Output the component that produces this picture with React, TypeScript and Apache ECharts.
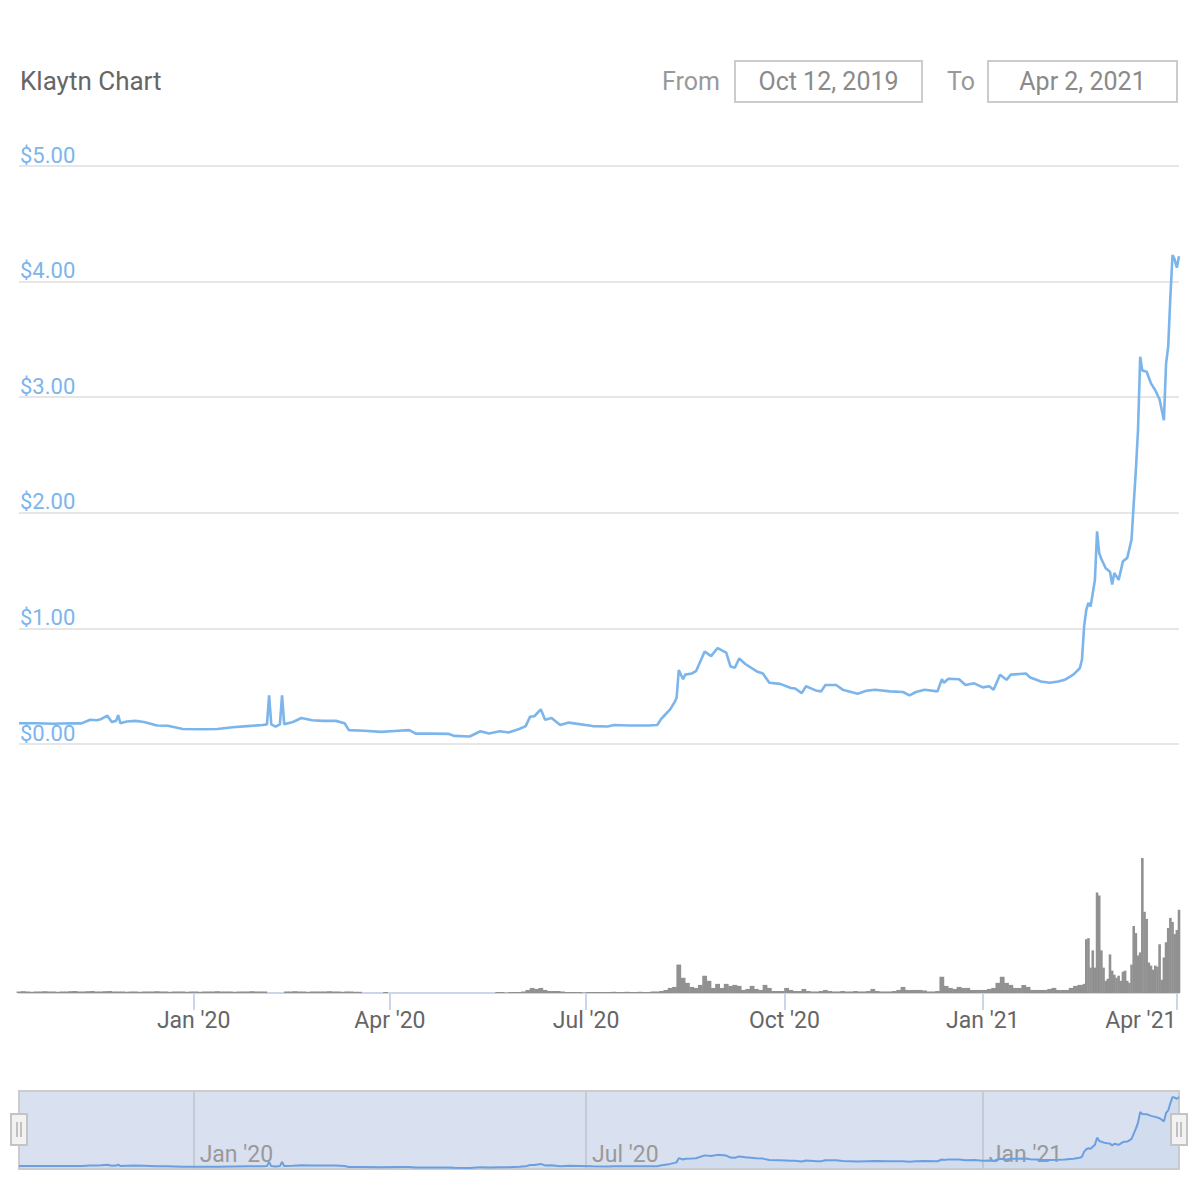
import React, { useEffect, useRef } from "react";
import * as echarts from "echarts";

// ---------- data ----------
const priceDates: string[] = [
  "2019-10-12","2019-10-20","2019-10-28","2019-11-05","2019-11-10","2019-11-14","2019-11-17","2019-11-19","2019-11-22","2019-11-24",
  "2019-11-26","2019-11-27","2019-11-28","2019-12-01","2019-12-05","2019-12-09","2019-12-15","2019-12-20","2019-12-27","2020-01-05",
  "2020-01-12","2020-01-19","2020-01-26","2020-02-02","2020-02-04","2020-02-05","2020-02-06","2020-02-08","2020-02-10","2020-02-11",
  "2020-02-12","2020-02-16","2020-02-20","2020-02-25","2020-03-01","2020-03-07","2020-03-11","2020-03-13","2020-03-20","2020-03-28",
  "2020-04-05","2020-04-10","2020-04-13","2020-04-20","2020-04-28","2020-05-01","2020-05-08","2020-05-13","2020-05-17","2020-05-22",
  "2020-05-26","2020-05-31","2020-06-03","2020-06-05","2020-06-07","2020-06-10","2020-06-12","2020-06-15","2020-06-19","2020-06-23",
  "2020-07-04","2020-07-11","2020-07-14","2020-07-21","2020-07-30","2020-08-03","2020-08-05","2020-08-06","2020-08-09","2020-08-11",
  "2020-08-12","2020-08-13","2020-08-15","2020-08-16","2020-08-19","2020-08-21","2020-08-25","2020-08-28","2020-08-31","2020-09-04",
  "2020-09-06","2020-09-08","2020-09-10","2020-09-13","2020-09-18","2020-09-21","2020-09-24","2020-09-29","2020-10-04","2020-10-06",
  "2020-10-09","2020-10-11","2020-10-16","2020-10-18","2020-10-20","2020-10-25","2020-10-28","2020-11-04","2020-11-08","2020-11-12",
  "2020-11-19","2020-11-25","2020-11-28","2020-12-01","2020-12-05","2020-12-11","2020-12-13","2020-12-14","2020-12-16","2020-12-21",
  "2020-12-24","2020-12-28","2021-01-01","2021-01-04","2021-01-06","2021-01-09","2021-01-12","2021-01-14","2021-01-21","2021-01-23",
  "2021-01-28","2021-02-01","2021-02-05","2021-02-08","2021-02-12","2021-02-15","2021-02-16","2021-02-17","2021-02-18","2021-02-19",
  "2021-02-20","2021-02-22","2021-02-23","2021-02-24","2021-02-25","2021-02-27","2021-03-01","2021-03-02","2021-03-03","2021-03-05",
  "2021-03-07","2021-03-09","2021-03-11","2021-03-12","2021-03-13","2021-03-14","2021-03-15","2021-03-16","2021-03-18","2021-03-20",
  "2021-03-22","2021-03-24","2021-03-25","2021-03-26","2021-03-27","2021-03-28","2021-03-29","2021-03-30","2021-03-31","2021-04-01",
  "2021-04-02",
];
const priceValues: number[] = [
  0.18,0.18,0.175,0.18,0.178,0.21,0.205,0.215,0.245,0.19,
  0.2,0.25,0.18,0.195,0.2,0.19,0.16,0.158,0.13,0.128,
  0.13,0.145,0.155,0.165,0.17,0.42,0.17,0.15,0.17,0.42,
  0.17,0.19,0.225,0.205,0.2,0.2,0.18,0.12,0.115,0.105,
  0.115,0.12,0.09,0.09,0.088,0.07,0.065,0.11,0.09,0.11,
  0.1,0.13,0.155,0.235,0.24,0.3,0.21,0.225,0.165,0.185,
  0.155,0.152,0.165,0.16,0.16,0.165,0.22,0.24,0.3,0.36,
  0.4,0.64,0.56,0.6,0.61,0.63,0.8,0.76,0.83,0.79,
  0.67,0.66,0.74,0.69,0.63,0.61,0.53,0.52,0.485,0.48,
  0.44,0.5,0.46,0.455,0.51,0.51,0.47,0.435,0.46,0.47,
  0.455,0.45,0.42,0.45,0.47,0.455,0.56,0.53,0.565,0.56,
  0.51,0.525,0.49,0.5,0.47,0.6,0.555,0.6,0.61,0.575,
  0.54,0.53,0.54,0.555,0.6,0.655,0.73,1.02,1.16,1.22,
  1.19,1.42,1.84,1.65,1.6,1.52,1.49,1.38,1.48,1.42,
  1.58,1.61,1.77,2.08,2.37,2.72,3.35,3.23,3.22,3.12,
  3.06,2.98,2.89,2.8,3.29,3.44,3.87,4.23,4.19,4.12,
  4.22,
];

// volume, one bar every 2 days from volumeAStart
const volumeAStart = "2019-10-12";
const volumeAStepDays = 2;
const volumeAValues: number[] = [
  1.5,1.8,1.5,1.2,1.5,1.5,1.8,1.5,1.5,1.2, 1.5,1.5,1.8,2,1.5,1.5,1.8,2,1.5,1.5,
  1.8,2,1.5,1.5,1.5,1.2,1.5,1.5,1.2,1.5, 1.5,1.5,1.8,1.5,1.5,1.2,1.5,1.5,1.5,1.2,
  1.5,1.5,1.2,1.5,1.5,1.5,1.8,1.5,1.5,1.5, 1.2,1.5,1.5,1.5,1.8,1.5,1.5,1.5,
  0,0,0,0,
  1.5,1.5,1.8,1.5,1.5,1.2,1.5,1.5,1.5,1.5, 1.8,1.5,1.5,1.2,1.5,1.5,1.2,1.2,
  0,0,0,0,0,
  1,
  0,0,0,0,0,0,0,0,0,0, 0,0,0,0,0,0,0,0,0,0, 0,0,0,0,0,
  1,1,0.5,1,1,1,1.5,3,5,4,5,3,2,2,2,1.5,1,1,1,1,0.5,1,1,1,
  1,1,1,1.2,1,1,1.2,1,1,1.2,1,1,1.5,1.5,
  2,3,5,6,
  28,15,10,6,5,8,17,12,5,9,
  5,9,7,8,7,3,4,7,4,3,
  8,5,2,2,2,5,3,2,2,4,
  2,1.5,1.5,2,3,2,1.5,1.5,2,1.5,
  1.5,2,1.5,1.5,2,4,2,1.5,1.5,1.5,
  2,3,6,3,3,3,3,2.5,1.5,1.5,
  2,16,7,5,4,6,5,5,3,3,
  3,3,4,5,10,16,10,8,5,5,
  8,6,3,3,3,3,4,5,3,3,
  3,5,7,8,
];
// volume, one bar per day from volumeBStart
const volumeBStart = "2021-02-16";
const volumeBStepDays = 1;
const volumeBValues: number[] = [
  8,9,53,54,25,42,25,99,96,42,
  25,12,14,38,22,18,15,17,12,21,
  22,12,10,28,66,59,37,40,133,80,
  73,30,27,23,27,26,48,13,35,50,
  64,74,70,58,62,82,
];

const axisTickDates = ["2020-01-01","2020-04-01","2020-07-01","2020-10-01","2021-01-01","2021-04-01"];
const navigatorTickDates = ["2020-01-01","2020-07-01","2021-01-01"];
const rangeFrom = "Oct 12, 2019";
const rangeTo = "Apr 2, 2021";
const chartTitle = "Klaytn Chart";
const startDate = "2019-10-12";
const endDate = "2021-04-02";

const MONTHS = ["Jan","Feb","Mar","Apr","May","Jun","Jul","Aug","Sep","Oct","Nov","Dec"];
const DAY = 86400000;
const ts = (s: string) => {
  const [y, m, d] = s.split("-").map(Number);
  return Date.UTC(y, m - 1, d);
};
const fmtDate = (v: number) => {
  const d = new Date(v);
  return MONTHS[d.getUTCMonth()] + " '" + String(d.getUTCFullYear()).slice(2);
};

const FONT = "Roboto";

export default function App() {
  const ref = useRef<HTMLDivElement>(null);
  useEffect(() => {
    if (!ref.current) return;
    const chart = echarts.init(ref.current, undefined, { renderer: "svg" });
    const minX = ts(startDate);
    const maxX = ts(endDate);
    const priceData = priceDates.map((d, i) => [ts(d), priceValues[i]]);
    const volA = volumeAValues.map((v, i) => [ts(volumeAStart) + i * volumeAStepDays * DAY, v]);
    const volB = volumeBValues.map((v, i) => [ts(volumeBStart) + i * volumeBStepDays * DAY, v]);
    const tickVals = axisTickDates.map(ts);
    const navVals = navigatorTickDates.map(ts);
    const lastTick = tickVals[tickVals.length - 1];

    const handle = (cx: number) => ({
      type: "group",
      z: 100,
      children: [
        { type: "rect", shape: { x: cx - 8, y: 1114, width: 16, height: 31 }, style: { fill: "#f2f2f2", stroke: "#c4c4c4", lineWidth: 2 }, z: 100 },
        { type: "line", shape: { x1: cx - 2, y1: 1122, x2: cx - 2, y2: 1137 }, style: { stroke: "#a0a0a0", lineWidth: 1.2 }, z: 101 },
        { type: "line", shape: { x1: cx + 2, y1: 1122, x2: cx + 2, y2: 1137 }, style: { stroke: "#a0a0a0", lineWidth: 1.2 }, z: 101 },
      ],
    });

    const txt = (text: string, x: number, y: number, size: number, color: string, align: string) => ({
      type: "text",
      x,
      y,
      z: 50,
      style: {
        text,
        fill: color,
        fontSize: size,
        fontFamily: FONT,
        align,
        textAlign: align,
        verticalAlign: "middle",
        textVerticalAlign: "middle",
      },
    });

    chart.setOption({
      animation: false,
      backgroundColor: "#ffffff",
      textStyle: { fontFamily: FONT },
      grid: [
        { left: 19, width: 1160, top: 166, height: 578 },
        { left: 19, width: 1160, top: 858, height: 135 },
        {
          left: 19, width: 1160, top: 1091, height: 78, show: true,
          backgroundColor: "#d9e0ef", borderColor: "#cccccc", borderWidth: 2,
        },
      ],
      xAxis: [
        {
          type: "value", gridIndex: 0, min: minX, max: maxX, show: false,
          splitLine: { show: false },
        },
        {
          type: "value", gridIndex: 1, min: minX, max: maxX,
          axisLine: { show: true, lineStyle: { color: "#ccd6eb", width: 2 } },
          axisTick: { show: true, customValues: tickVals, length: 17, lineStyle: { color: "#ccd6eb", width: 2 } },
          splitLine: { show: false },
          axisLabel: {
            customValues: tickVals,
            margin: 16,
            color: "#666666",
            fontSize: 23,
            fontFamily: FONT,
            showMinLabel: true,
            showMaxLabel: true,
            formatter: (v: number) => (v === lastTick ? "{r|" + fmtDate(v) + "}" : fmtDate(v)),
            rich: { r: { padding: [0, 72, 0, 0], color: "#666666", fontSize: 23, fontFamily: FONT } },
          },
        },
        {
          type: "value", gridIndex: 1, min: minX, max: maxX, show: false,
          splitLine: { show: false },
        },
        {
          type: "value", gridIndex: 2, min: minX, max: maxX,
          axisLine: { show: false },
          axisTick: { show: true, inside: true, customValues: navVals, length: 78, lineStyle: { color: "#c5cad4", width: 2 } },
          splitLine: { show: false },
          axisLabel: {
            customValues: navVals,
            inside: true,
            margin: 3,
            align: "left",
            padding: [0, 0, 0, 6],
            color: "#999999",
            fontSize: 23,
            fontFamily: FONT,
            formatter: (v: number) => fmtDate(v),
          },
        },
      ],
      yAxis: [
        {
          type: "value", gridIndex: 0, min: 0, max: 5, interval: 1,
          axisLine: { show: false }, axisTick: { show: false },
          axisLabel: {
            inside: true,
            margin: 1,
            align: "left",
            verticalAlign: "bottom",
            color: "#7cb5ec",
            fontSize: 22,
            fontFamily: FONT,
            formatter: (v: number) => "$" + v.toFixed(2),
          },
          splitLine: { show: true, lineStyle: { color: "#e6e6e6", width: 2 } },
        },
        { type: "value", gridIndex: 1, min: 0, max: 133, show: false, splitLine: { show: false } },
        { type: "value", gridIndex: 2, min: 0, max: 4.58, show: false, splitLine: { show: false } },
      ],
      series: [
        {
          name: "Price",
          type: "line",
          xAxisIndex: 0,
          yAxisIndex: 0,
          data: priceData,
          showSymbol: false,
          lineStyle: { color: "#7cb5ec", width: 2.6 },
          itemStyle: { color: "#7cb5ec" },
          z: 3,
        },
        {
          name: "Volume",
          type: "bar",
          xAxisIndex: 1,
          yAxisIndex: 1,
          data: volA,
          barWidth: 4.8,
          itemStyle: { color: "#919191" },
        },
        {
          name: "Volume daily",
          type: "bar",
          xAxisIndex: 2,
          yAxisIndex: 1,
          data: volB,
          barWidth: 2.6,
          itemStyle: { color: "#919191" },
        },
        {
          name: "Navigator",
          type: "line",
          xAxisIndex: 3,
          yAxisIndex: 2,
          data: priceData,
          showSymbol: false,
          lineStyle: { color: "#6c9fe0", width: 2 },
          areaStyle: { color: "rgba(124,181,236,0.12)" },
          z: 3,
        },
      ],
      graphic: [
        txt(chartTitle, 20, 81, 26, "#666666", "left"),
        txt("From", 720, 81, 25, "#999999", "right"),
        { type: "rect", z: 40, shape: { x: 735, y: 61, width: 187, height: 41 }, style: { fill: "#ffffff", stroke: "#cccccc", lineWidth: 2 } },
        txt(rangeFrom, 828.5, 81, 25, "#8a8a8a", "center"),
        txt("To", 947, 81, 25, "#999999", "left"),
        { type: "rect", z: 40, shape: { x: 988, y: 61, width: 189, height: 41 }, style: { fill: "#ffffff", stroke: "#cccccc", lineWidth: 2 } },
        txt(rangeTo, 1082.5, 81, 25, "#8a8a8a", "center"),
        handle(19),
        handle(1179),
      ],
    });
    return () => chart.dispose();
  }, []);
  return (
    <div
      ref={ref}
      style={{ position: "absolute", left: 0, top: 0, width: 1200, height: 1200, background: "#fff" }}
    />
  );
}
